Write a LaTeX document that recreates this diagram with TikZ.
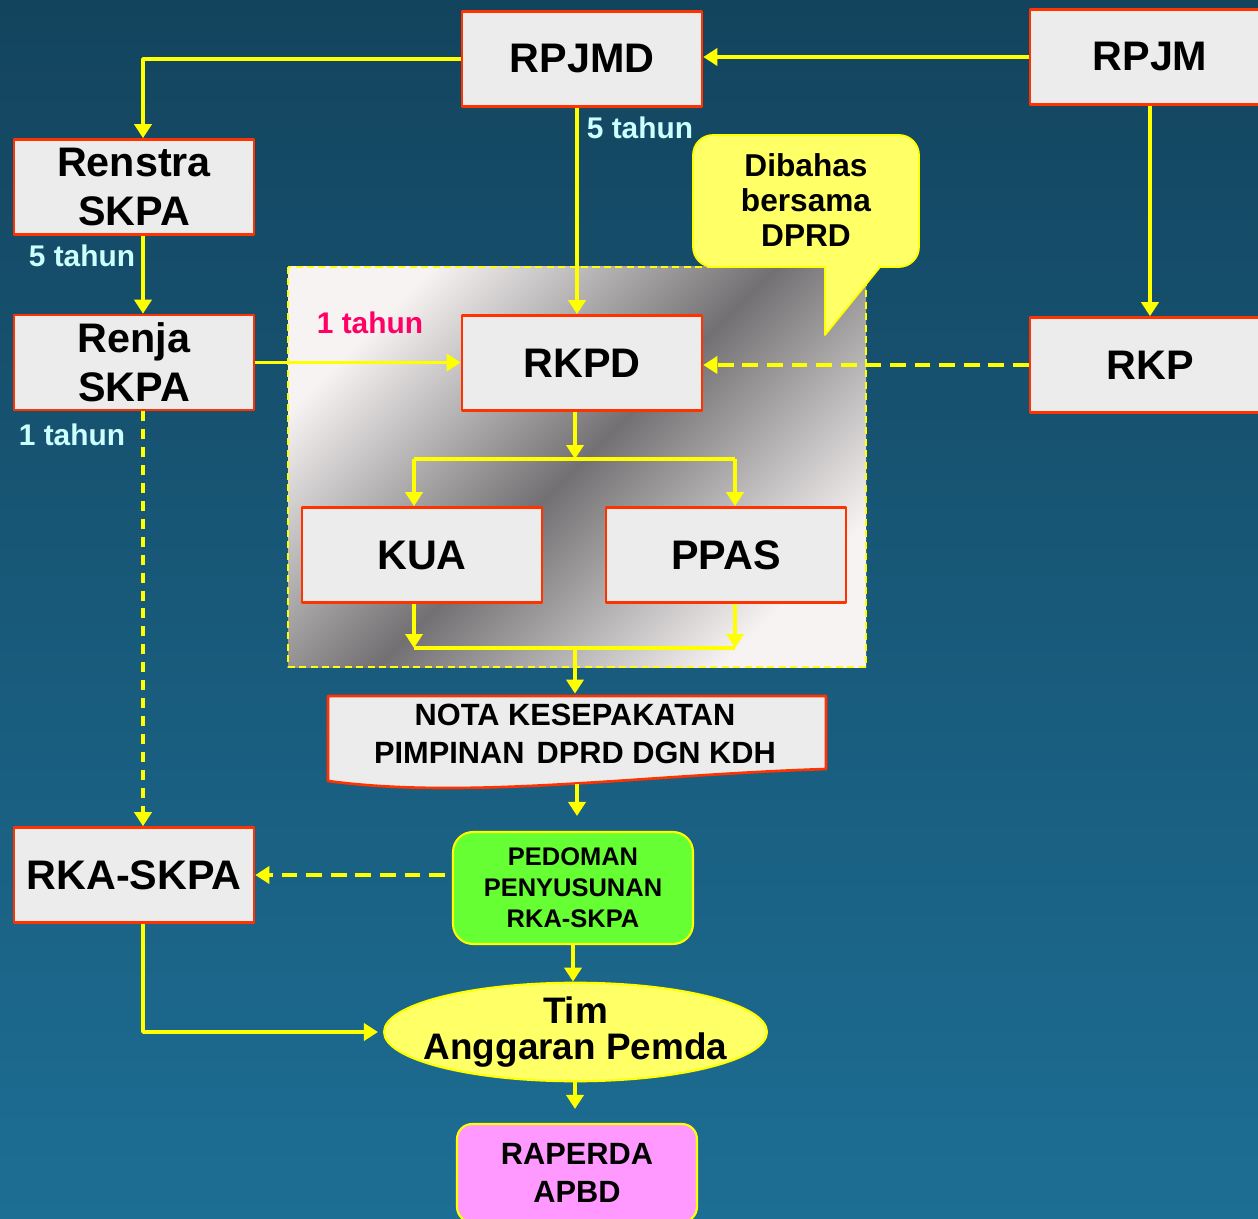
\documentclass[tikz,border=0pt]{standalone}
\usepackage{fontspec}
\setmainfont{Liberation Sans}
\usetikzlibrary{arrows.meta, positioning, calc, shapes.geometric}

\definecolor{bgtop}{RGB}{19,68,94}
\definecolor{bgbot}{RGB}{29,110,148}
\definecolor{boxfill}{RGB}{236,236,236}
\definecolor{boxline}{RGB}{255,51,0}
\definecolor{ylw}{RGB}{255,255,0}
\definecolor{softylw}{RGB}{255,255,102}
\definecolor{tahuncyan}{RGB}{204,255,255}
\definecolor{tahunpink}{RGB}{255,0,102}
\definecolor{pedomangreen}{RGB}{102,255,51}
\definecolor{raperdapink}{RGB}{255,153,255}
\definecolor{greylight}{RGB}{247,243,243}
\definecolor{greydark}{RGB}{114,112,114}

\begin{document}
\begin{tikzpicture}[x=0.02cm, y=-0.02cm, line join=round,
    plan/.style={draw=boxline, fill=boxfill, line width=1.5pt, minimum width=4.8cm,
      minimum height=1.9cm, inner sep=0pt, align=center,
      font=\bfseries\fontsize{23.5}{28}\selectfont},
    arr/.style={draw=ylw, line width=2pt, -{Triangle[length=0.28cm,width=0.34cm]}},
    link/.style={draw=ylw, line width=2pt},
    dashlink/.style={dash pattern=on 9pt off 5pt},
    dashdown/.style={dash pattern=on 5.7pt off 4.5pt},
    tahun/.style={font=\bfseries\fontsize{17}{20}\selectfont, inner sep=0pt}]
  % background
  \useasboundingbox (0,0) rectangle (1258,1219);
  \fill[top color=bgtop, bottom color=bgbot] (0,0) rectangle (1258,1219);

  % shaded zone round RKPD, KUA, PPAS
  \draw[ylw, line width=1.1pt, dash pattern=on 4pt off 2.5pt,
    top color=greylight, bottom color=greylight, middle color=greydark, shading angle=45]
    (288,267) rectangle (866,667);

  % callout
  \draw[draw=ylw, fill=softylw, line width=1pt]
    (825,267) [rounded corners=0.4cm] -- (693,267) -- (693,135) -- (919,135) -- (919,267)
    [sharp corners] -- (880,267) -- (825,335) -- cycle;
  \node[font=\bfseries\fontsize{18}{20}\selectfont, align=center] (dibahas) at (806,200)
    {Dibahas\\bersama\\DPRD};

  % nota frame
  \draw[draw=boxline, fill=boxfill, line width=1.5pt]
    (328,696) -- (826,696) -- (826,769) .. controls (640,775) and (470,800) .. (328,781) -- cycle;
  \node[minimum width=9.96cm, minimum height=1.6cm, inner sep=0pt, align=center,
    font=\bfseries\fontsize{17.5}{22}\selectfont] (nota) at (575,734)
    {NOTA KESEPAKATAN\\PIMPINAN\hspace{0.12em} DPRD DGN KDH};

  \node[plan] (rpjmd) at (582,59) {RPJMD};
  \node[plan] (rpjm) at (1150,57) {RPJM};
  \node[plan] (renstra) at (134,187) {Renstra\\SKPA};
  \node[plan] (renja) at (134,362.5) {Renja\\SKPA};
  \node[plan] (rkpd) at (582,363) {RKPD};
  \node[plan] (rkp) at (1150,365) {RKP};
  \node[plan] (kua) at (422,555) {KUA};
  \node[plan] (ppas) at (726,555) {PPAS};
  \node[plan] (rkaskpa) at (134,875) {RKA-SKPA};

  \node[draw=ylw, fill=pedomangreen, line width=1.2pt, rounded corners=0.4cm,
    minimum width=4.8cm, minimum height=2.24cm, inner sep=0pt, align=center,
    font=\bfseries\fontsize{14.5}{17.6}\selectfont] (pedoman) at (573,888)
    {PEDOMAN\\PENYUSUNAN\\RKA-SKPA};
  \node[ellipse, draw=ylw, fill=softylw, line width=1.2pt, minimum width=7.66cm,
    minimum height=1.96cm, inner xsep=-0.34cm, inner ysep=0pt, align=center,
    font=\bfseries\fontsize{21}{20}\selectfont] (tim) at (575.5,1032)
    {Tim\\Anggaran Pemda};
  \node[draw=ylw, fill=raperdapink, line width=1.2pt, rounded corners=0.3cm,
    minimum width=4.8cm, minimum height=1.96cm, inner sep=0pt, align=center,
    font=\bfseries\fontsize{17.5}{22}\selectfont] (raperda) at (577,1173)
    {RAPERDA\\APBD};

  % labels
  \node[tahun, text=tahuncyan] (tahunA) at (640,128) {5 tahun};
  \node[tahun, text=tahuncyan] (tahunB) at (82,256) {5 tahun};
  \node[tahun, text=tahuncyan] (tahunC) at (72,435) {1 tahun};
  \node[tahun, text=tahunpink] (tahunD) at (370,323) {1 tahun};

  % columns for the connectors
  \coordinate (colL) at (143,0);
  \coordinate (colK) at (414,0);
  \coordinate (colP) at (735,0);
  \coordinate (colM) at (575,0);
  \coordinate (colR) at (577,0);
  \coordinate (split) at (575,459);
  \coordinate (merge) at (575,648);

  \draw[arr] (rpjmd.west) -| (colL |- renstra.north);
  \draw[arr] (rpjm.west) -- (rpjm.west -| rpjmd.east);
  \draw[arr] (colR |- rpjmd.south) -- (colR |- rkpd.north);
  \draw[arr] (rpjm.south) -- (rkp.north);
  \draw[arr] (colL |- renstra.south) -- (colL |- renja.north);
  \draw[arr] (renja.east) -- (renja.east -| rkpd.west);
  \draw[arr, dashlink] (rkp.west) -- (rkp.west -| rkpd.east);
  \draw[arr, dashdown] (colL |- renja.south) -- (colL |- rkaskpa.north);

  \draw[arr] (rkpd.south -| split) -- (split);
  \draw[link] (colK |- split) -- (colP |- split);
  \draw[arr] (colK |- split) -- (colK |- kua.north);
  \draw[arr] (colP |- split) -- (colP |- ppas.north);
  \draw[arr] (colK |- kua.south) -- (colK |- merge);
  \draw[arr] (colP |- ppas.south) -- (colP |- merge);
  \draw[link] (colK |- merge) -- (colP |- merge);
  \draw[arr] (merge) -- (colM |- nota.north);

  \draw[arr, shorten <=0.2cm, shorten >=0.3cm] (colR |- nota.south) -- (colR |- pedoman.north);
  \draw[arr, dashlink, shorten <=0.14cm] (pedoman.west |- rkaskpa.east) -- (rkaskpa.east);
  \draw[arr] (pedoman.south) -- (pedoman.south |- tim.north);
  \draw[arr, shorten >=0.1cm] (rkaskpa.south -| colL) |- (tim.west);
  \draw[arr, shorten >=0.28cm] (colM |- tim.south) -- (colM |- raperda.north);
\end{tikzpicture}
\end{document}
